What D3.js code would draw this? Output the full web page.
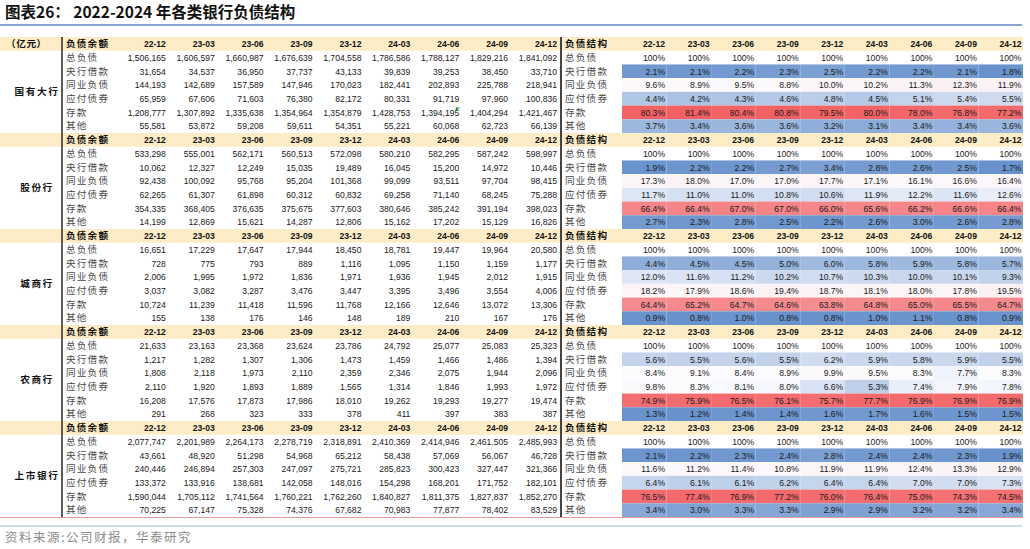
<!DOCTYPE html>
<html lang="zh">
<head>
<meta charset="utf-8">
<title>2022-2024 年各类银行负债结构</title>
<script src="https://cdn.jsdelivr.net/npm/d3@7/dist/d3.min.js"></script>
<style>
    html, body { margin: 0; padding: 0; background: #fff; }
    #chart { width: 1030px; height: 549px; }
    text { font-family: 'Liberation Sans', Arial, 'Noto Sans CJK SC', sans-serif; }
    text.cjk { font-family: 'Noto Sans CJK SC', 'Liberation Sans', sans-serif; }
</style>
</head>
<body>
<div id="chart"></div>
<script>
// ===================================
// 各类银行负债结构 — data
// ===================================

const periods = ['22-12', '23-03', '23-06', '23-09', '23-12', '24-03', '24-06', '24-09', '24-12'];
const items = ['总负债', '央行借款', '同业负债', '应付债券', '存款', '其他'];
const banks = ['国有大行', '股份行', '城商行', '农商行', '上市银行'];

// 负债余额（亿元）, rows follow `items`
const amountBig4 = [
    [1506165, 1606597, 1660987, 1676639, 1704558, 1786586, 1788127, 1829216, 1841092],
    [31654, 34537, 36950, 37737, 43133, 39839, 39253, 38450, 33710],
    [144193, 142689, 157589, 147946, 170023, 182441, 202893, 225788, 218941],
    [65959, 67606, 71603, 76380, 82172, 80331, 91719, 97960, 100836],
    [1208777, 1307892, 1335638, 1354964, 1354879, 1428753, 1394195, 1404294, 1421467],
    [55581, 53872, 59208, 59611, 54351, 55221, 60068, 62723, 66139]
];
const amountJoint = [
    [533298, 555001, 562171, 560513, 572098, 580210, 582295, 587242, 598997],
    [10062, 12327, 12249, 15035, 19489, 16045, 15200, 14972, 10446],
    [92438, 100092, 95768, 95204, 101368, 99099, 93511, 97704, 98415],
    [62265, 61307, 61898, 60312, 60832, 69258, 71140, 68245, 75288],
    [354335, 368405, 376635, 375675, 377603, 380646, 385242, 391194, 398023],
    [14199, 12869, 15621, 14287, 12806, 15162, 17202, 15129, 16826]
];
const amountCity = [
    [16651, 17229, 17647, 17944, 18450, 18781, 19447, 19964, 20580],
    [728, 775, 793, 889, 1116, 1095, 1150, 1159, 1177],
    [2006, 1995, 1972, 1836, 1971, 1936, 1945, 2012, 1915],
    [3037, 3082, 3287, 3476, 3447, 3395, 3496, 3554, 4006],
    [10724, 11239, 11418, 11596, 11768, 12166, 12646, 13072, 13306],
    [155, 138, 176, 146, 148, 189, 210, 167, 176]
];
const amountRural = [
    [21633, 23163, 23368, 23624, 23786, 24792, 25077, 25083, 25323],
    [1217, 1282, 1307, 1306, 1473, 1459, 1466, 1486, 1394],
    [1808, 2118, 1973, 2110, 2359, 2346, 2075, 1944, 2096],
    [2110, 1920, 1893, 1889, 1565, 1314, 1846, 1993, 1972],
    [16208, 17576, 17873, 17986, 18010, 19262, 19293, 19277, 19474],
    [291, 268, 323, 333, 378, 411, 397, 383, 387]
];
const amountListed = [
    [2077747, 2201989, 2264173, 2278719, 2318891, 2410369, 2414946, 2461505, 2485993],
    [43661, 48920, 51298, 54968, 65212, 58438, 57069, 56067, 46728],
    [240446, 246894, 257303, 247097, 275721, 285823, 300423, 327447, 321366],
    [133372, 133916, 138681, 142058, 148016, 154298, 168201, 171752, 182101],
    [1590044, 1705112, 1741564, 1760221, 1762260, 1840827, 1811375, 1827837, 1852270],
    [70225, 67147, 75328, 74376, 67682, 70983, 77877, 78402, 83529]
];

// 负债结构（%）, rows follow `items`
const shareBig4 = [
    [100, 100, 100, 100, 100, 100, 100, 100, 100],
    [2.1, 2.1, 2.2, 2.3, 2.5, 2.2, 2.2, 2.1, 1.8],
    [9.6, 8.9, 9.5, 8.8, 10.0, 10.2, 11.3, 12.3, 11.9],
    [4.4, 4.2, 4.3, 4.6, 4.8, 4.5, 5.1, 5.4, 5.5],
    [80.3, 81.4, 80.4, 80.8, 79.5, 80.0, 78.0, 76.8, 77.2],
    [3.7, 3.4, 3.6, 3.6, 3.2, 3.1, 3.4, 3.4, 3.6]
];
const shareJoint = [
    [100, 100, 100, 100, 100, 100, 100, 100, 100],
    [1.9, 2.2, 2.2, 2.7, 3.4, 2.8, 2.6, 2.5, 1.7],
    [17.3, 18.0, 17.0, 17.0, 17.7, 17.1, 16.1, 16.6, 16.4],
    [11.7, 11.0, 11.0, 10.8, 10.6, 11.9, 12.2, 11.6, 12.6],
    [66.4, 66.4, 67.0, 67.0, 66.0, 65.6, 66.2, 66.6, 66.4],
    [2.7, 2.3, 2.8, 2.5, 2.2, 2.6, 3.0, 2.6, 2.8]
];
const shareCity = [
    [100, 100, 100, 100, 100, 100, 100, 100, 100],
    [4.4, 4.5, 4.5, 5.0, 6.0, 5.8, 5.9, 5.8, 5.7],
    [12.0, 11.6, 11.2, 10.2, 10.7, 10.3, 10.0, 10.1, 9.3],
    [18.2, 17.9, 18.6, 19.4, 18.7, 18.1, 18.0, 17.8, 19.5],
    [64.4, 65.2, 64.7, 64.6, 63.8, 64.8, 65.0, 65.5, 64.7],
    [0.9, 0.8, 1.0, 0.8, 0.8, 1.0, 1.1, 0.8, 0.9]
];
const shareRural = [
    [100, 100, 100, 100, 100, 100, 100, 100, 100],
    [5.6, 5.5, 5.6, 5.5, 6.2, 5.9, 5.8, 5.9, 5.5],
    [8.4, 9.1, 8.4, 8.9, 9.9, 9.5, 8.3, 7.7, 8.3],
    [9.8, 8.3, 8.1, 8.0, 6.6, 5.3, 7.4, 7.9, 7.8],
    [74.9, 75.9, 76.5, 76.1, 75.7, 77.7, 76.9, 76.9, 76.9],
    [1.3, 1.2, 1.4, 1.4, 1.6, 1.7, 1.6, 1.5, 1.5]
];
const shareListed = [
    [100, 100, 100, 100, 100, 100, 100, 100, 100],
    [2.1, 2.2, 2.3, 2.4, 2.8, 2.4, 2.4, 2.3, 1.9],
    [11.6, 11.2, 11.4, 10.8, 11.9, 11.9, 12.4, 13.3, 12.9],
    [6.4, 6.1, 6.1, 6.2, 6.4, 6.4, 7.0, 7.0, 7.3],
    [76.5, 77.4, 76.9, 77.2, 76.0, 76.4, 75.0, 74.3, 74.5],
    [3.4, 3.0, 3.3, 3.3, 2.9, 2.9, 3.2, 3.2, 3.4]
];

const amounts = [amountBig4, amountJoint, amountCity, amountRural, amountListed];
const shares = [shareBig4, shareJoint, shareCity, shareRural, shareListed];

// ===================================
// 表格
// ===================================

class LiabilityTable {
    constructor(selector) {
        this.width = 1030;
        this.height = 549;
        this.svg = d3.select(selector)
            .append('svg')
            .attr('width', this.width)
            .attr('height', this.height);

        // section / row / column scales
        this.ySection = d3.scaleBand().domain(banks).range([37, 517]);
        this.yRow = d3.scaleBand().domain(['head'].concat(items)).range([0, this.ySection.bandwidth()]);
        this.xLeft = d3.scaleBand().domain(periods).range([117.5, 557.5]);
        this.xRight = d3.scaleBand().domain(periods).range([622, 1023]);

        this.fmtAmount = d3.format(',');
        this.fmtShare = d => d === 100 ? '100%' : d3.format('.1f')(d) + '%';

        this.numSize = 8.6;
        this.cjkSize = 9.6;

        this.render();
    }

    render() {
        this.drawTitle();
        banks.forEach((bank, i) => this.drawSection(bank, i));
        this.drawFrame();
        this.drawFooter();
    }

    drawTitle() {
        this.svg.append('text')
            .attr('class', 'cjk')
            .attr('x', 5)
            .attr('y', 18)
            .attr('font-size', 15.5)
            .attr('font-weight', 'bold')
            .attr('fill', '#111')
            .text('图表26：  2022-2024 年各类银行负债结构');

        this.svg.append('line')
            .attr('x1', 0).attr('x2', 1022)
            .attr('y1', 25).attr('y2', 25)
            .attr('stroke', '#5b84bf')
            .attr('stroke-width', 1.5);
    }

    cjkLabel(g, x, y, txt, bold) {
        return g.append('text')
            .attr('class', 'cjk')
            .attr('x', x).attr('y', y)
            .attr('font-size', this.cjkSize)
            .attr('font-weight', bold ? 'bold' : 'normal')
            .attr('letter-spacing', 1.2)
            .attr('fill', bold ? '#111' : '#4a4a4a')
            .text(txt);
    }

    drawSection(bank, i) {
        const top = this.ySection(bank);
        const rowH = this.yRow.bandwidth();
        const g = this.svg.append('g').attr('transform', `translate(0,${top})`);
        const headY = this.yRow('head');

        // header band
        g.append('rect')
            .attr('x', 0).attr('y', headY)
            .attr('width', 560).attr('height', rowH)
            .attr('fill', '#fdedc6');
        g.append('rect')
            .attr('x', 562).attr('y', headY)
            .attr('width', 461).attr('height', rowH)
            .attr('fill', '#fdedc6');

        const base = headY + rowH / 2 + 3.3;
        if (i === 0) {
            this.cjkLabel(g, 6, base, '（亿元）', true).attr('letter-spacing', 0.6);
        }
        this.cjkLabel(g, 66, base, '负债余额', true);
        this.cjkLabel(g, 565, base, '负债结构', true);

        g.selectAll('text.head-l')
            .data(periods)
            .join('text')
            .attr('class', 'head-l')
            .attr('x', d => this.xLeft(d) + this.xLeft.bandwidth() - 0.5)
            .attr('y', base)
            .attr('text-anchor', 'end')
            .attr('font-size', this.numSize)
            .attr('font-weight', 'bold')
            .attr('fill', '#111')
            .text(d => d);

        g.selectAll('text.head-r')
            .data(periods)
            .join('text')
            .attr('class', 'head-r')
            .attr('x', d => this.xRight(d) + this.xRight.bandwidth() - 1.5)
            .attr('y', base)
            .attr('text-anchor', 'end')
            .attr('font-size', this.numSize)
            .attr('font-weight', 'bold')
            .attr('fill', '#111')
            .text(d => d);

        // bank name, centered on the data rows
        this.cjkLabel(g, 37, this.yRow(items[0]) + rowH * items.length / 2 + 3.5, bank, true)
            .attr('text-anchor', 'middle')
            .attr('letter-spacing', 1.6);

        // heatmap scale per section: blue (low) - white (median) - red (100%)
        const flat = d3.merge(shares[i]);
        const color = d3.scaleLinear()
            .domain([d3.min(flat), d3.median(flat), d3.max(flat)])
            .range(['#6892cc', '#fcfcff', '#f0393c'])
            .interpolate(d3.interpolateRgb);

        items.forEach((item, r) => {
            const y = this.yRow(item);
            const ty = y + rowH / 2 + 3.3;

            // left labels + amounts
            this.cjkLabel(g, 66, ty, item, false);

            g.selectAll(null)
                .data(amounts[i][r])
                .join('text')
                .attr('x', (d, c) => this.xLeft(periods[c]) + this.xLeft.bandwidth() - 0.5)
                .attr('y', ty)
                .attr('text-anchor', 'end')
                .attr('font-size', this.numSize)
                .attr('fill', '#1a1a1a')
                .text(d => this.fmtAmount(d));

            // right labels + heat cells
            this.cjkLabel(g, 565, ty, item, false);

            if (r > 0) {
                g.selectAll(null)
                    .data(shares[i][r])
                    .join('rect')
                    .attr('x', (d, c) => this.xRight(periods[c]))
                    .attr('y', y)
                    .attr('width', this.xRight.bandwidth())
                    .attr('height', rowH)
                    .attr('fill', d => color(d));
            }

            g.selectAll(null)
                .data(shares[i][r])
                .join('text')
                .attr('x', (d, c) => this.xRight(periods[c]) + this.xRight.bandwidth() - 1.5)
                .attr('y', ty)
                .attr('text-anchor', 'end')
                .attr('font-size', this.numSize)
                .attr('fill', '#1a1a1a')
                .text(d => this.fmtShare(d));
        });

        // little green marker in the source sheet (国有大行 存款 24-09)
        if (i === 0) {
            const tx = this.xLeft('24-09') - 4;
            const ty = this.yRow('存款') + 2;
            g.append('path')
                .attr('d', `M${tx},${ty}L${tx + 4},${ty}L${tx},${ty + 4}Z`)
                .attr('fill', '#1f8a3a');
        }
    }

    drawFrame() {
        const y0 = this.ySection.range()[0];
        const y1 = this.ySection.range()[1];

        this.svg.append('line')
            .attr('x1', 62).attr('x2', 62)
            .attr('y1', y0).attr('y2', y1)
            .attr('stroke', '#333')
            .attr('stroke-width', 1.6);

        this.svg.append('line')
            .attr('x1', 561).attr('x2', 561)
            .attr('y1', y0).attr('y2', y1)
            .attr('stroke', '#444')
            .attr('stroke-width', 2);

        this.svg.append('line')
            .attr('x1', 0).attr('x2', 1023)
            .attr('y1', y1 + 0.5).attr('y2', y1 + 0.5)
            .attr('stroke', '#e79a9c')
            .attr('stroke-width', 1);
    }

    drawFooter() {
        this.svg.append('line')
            .attr('x1', 0).attr('x2', 1022)
            .attr('y1', 526).attr('y2', 526)
            .attr('stroke', '#9db5dc')
            .attr('stroke-width', 1);

        this.svg.append('text')
            .attr('class', 'cjk')
            .attr('x', 5)
            .attr('y', 542)
            .attr('font-size', 12.5)
            .attr('letter-spacing', 1.5)
            .attr('fill', '#8c8c8c')
            .text('资料来源:公司财报，华泰研究');
    }
}

let liabilityTable;
document.addEventListener('DOMContentLoaded', () => {
    if (typeof d3 !== 'undefined') {
        liabilityTable = new LiabilityTable('#chart');
    }
});
</script>
</body>
</html>
